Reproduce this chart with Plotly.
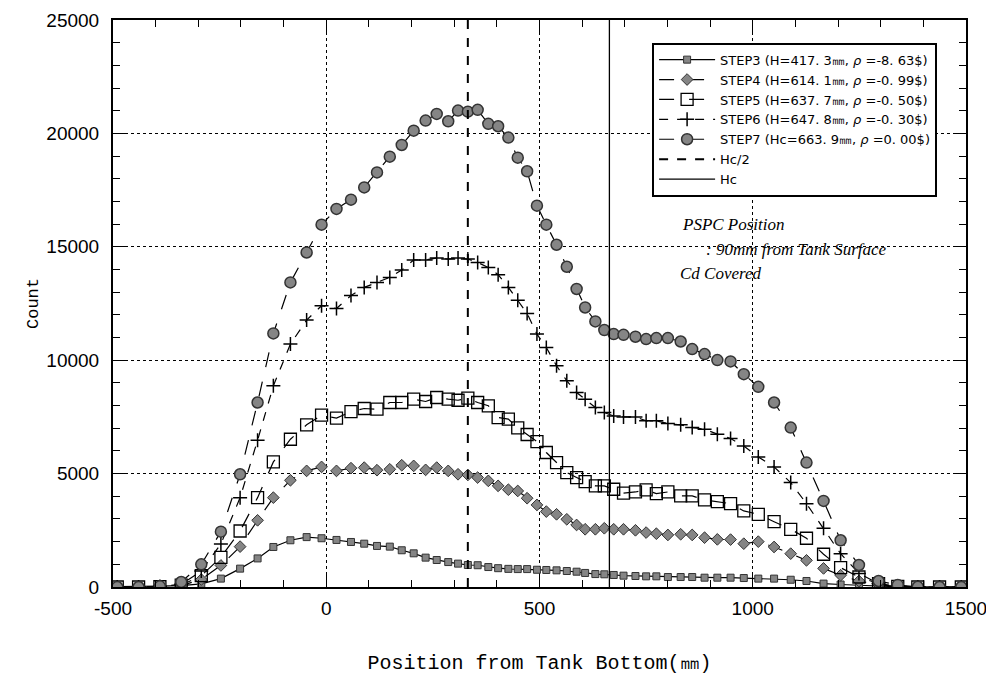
import plotly.graph_objects as go

# 位置 (mm)
pos = [-490, -440, -390, -340, -293, -247, -202, -161, -124, -84,
       -46, -11, 24, 58, 89, 119, 149, 177, 205, 233,
       259, 286, 309, 332, 355, 380, 403, 427, 449, 471,
       494, 516, 540, 564, 587, 607, 631, 652, 674, 697,
       725, 750, 774, 801, 831, 858, 887, 917, 948, 979,
       1013, 1050, 1089, 1126, 1166, 1206, 1249, 1295, 1340, 1387,
       1438, 1489]

step3 = [20, 20, 40, 60, 140, 370, 810, 1260, 1765, 2060,
         2200, 2150, 2075, 1985, 1910, 1810, 1780, 1620, 1485, 1295,
         1190, 1100, 1030, 970, 960, 880, 830, 800, 790, 790,
         760, 750, 735, 705, 675, 620, 570, 560, 530, 500,
         485, 470, 470, 440, 440, 440, 410, 410, 410, 395,
         370, 370, 320, 265, 150, 110, 80, 30, 10, 5,
         5, 5]

step4 = [0, 0, 10, 60, 330, 950, 1780, 2940, 3940, 4705,
         5120, 5295, 5120, 5240, 5265, 5150, 5190, 5370, 5340, 5165,
         5265, 5120, 4970, 4940, 4825, 4680, 4460, 4290, 4235, 3915,
         3620, 3325, 3205, 2985, 2735, 2545, 2545, 2590, 2545, 2545,
         2500, 2400, 2350, 2295, 2325, 2295, 2175, 2100, 2090, 1910,
         2000, 1765, 1470, 1175, 820, 520, 265, 100, 20, 0,
         0, 0]

step5 = [0, 0, 10, 80, 500, 1310, 2470, 3940, 5515, 6515,
         7150, 7575, 7445, 7735, 7870, 7840, 8135, 8135, 8280, 8180,
         8355, 8280, 8235, 8325, 8135, 7990, 7470, 7400, 7015, 6725,
         6410, 5930, 5485, 5045, 4825, 4650, 4460, 4460, 4310, 4135,
         4190, 4280, 4120, 4190, 4015, 4015, 3840, 3765, 3675, 3355,
         3205, 2880, 2545, 2150, 1445, 850, 440, 150, 30, 0,
         0, 0]

step6 = [0, 0, 20, 120, 700, 1900, 3940, 6470, 8870, 10710,
         11770, 12400, 12280, 12850, 13210, 13430, 13650, 13975, 14420, 14420,
         14505, 14460, 14505, 14460, 14310, 14090, 13770, 13210, 12640, 12060,
         11150, 10560, 9755, 9090, 8575, 8280, 7915, 7690, 7545, 7500,
         7500, 7325, 7325, 7205, 7150, 7030, 6960, 6740, 6545, 6220,
         5735, 5295, 4605, 3675, 2590, 1470, 600, 150, 30, 0,
         0, 0]

step7 = [0, 0, 30, 220, 1000, 2440, 4970, 8135, 11180, 13430,
         14750, 15975, 16670, 17080, 17620, 18280, 18975, 19490, 20120, 20565,
         20860, 20535, 21005, 20960, 21040, 20420, 20315, 19815, 18930, 18330,
         16815, 15975, 15090, 14120, 13140, 12325, 11710, 11330, 11150, 11120,
         11035, 10930, 10975, 10975, 10825, 10490, 10270, 10005, 9945, 9385,
         8825, 8135, 7030, 5485, 3795, 2060, 970, 265, 90, 10,
         0, 0]

names = ['STEP3 (H=417. 3㎜, <i>ρ</i> =-8. 63$)',
         'STEP4 (H=614. 1㎜, <i>ρ</i> =-0. 99$)',
         'STEP5 (H=637. 7㎜, <i>ρ</i> =-0. 50$)',
         'STEP6 (H=647. 8㎜, <i>ρ</i> =-0. 30$)',
         'STEP7 (Hc=663. 9㎜, <i>ρ</i> =0. 00$)']

hc = 663.9
y_span = [0, 25000]
x_ticks = [-500, 0, 500, 1000, 1500]
x_labels = ['-500', '0', '500', '1000', '1500']

sans = 'Liberation Sans'
mono = 'Liberation Mono'

fig = go.Figure()

styles = [
    dict(symbol='square', size=7, color='#858585', line=dict(color='#333', width=1)),
    dict(symbol='diamond', size=9, color='#858585', line=dict(color='#333', width=1)),
    dict(symbol='square-open', size=12, color='black', line=dict(color='black', width=1.3)),
    dict(symbol='cross-thin-open', size=10, color='black', line=dict(color='black', width=1.5)),
    dict(symbol='circle', size=11, color='#858585', line=dict(color='#333', width=1.5)),
]
dashes = ['solid', 'longdash', 'longdash', 'dash', 'longdash']

for ys, name, mk, dash in zip([step3, step4, step5, step6, step7], names, styles, dashes):
    fig.add_trace(go.Scatter(
        x=pos, y=ys, name=name, mode='lines+markers',
        line=dict(color='black', width=1.2, dash=dash),
        marker=mk,
    ))

fig.add_trace(go.Scatter(x=[hc / 2, hc / 2], y=y_span, name='Hc/2', mode='lines',
                         line=dict(color='black', width=2, dash='dash')))
fig.add_trace(go.Scatter(x=[hc, hc], y=y_span, name='Hc', mode='lines',
                         line=dict(color='black', width=1.3)))

# 注記
notes = [('<i>PSPC Position</i>', 0.665, 0.639),
         ('<i>: 90mm from Tank Surface</i>', 0.693, 0.595),
         ('<i>Cd Covered</i>', 0.662, 0.553)]
for txt, ax, ay in notes:
    fig.add_annotation(text=txt, x=ax, y=ay, xref='paper', yref='paper',
                       xanchor='left', yanchor='middle', showarrow=False,
                       font=dict(family='Liberation Serif', size=17, color='black'))

# ページ余白 8px 分を差し引く
fig.update_layout(
    width=994, height=685,
    margin=dict(l=105, r=36, t=12, b=106),
    paper_bgcolor='white', plot_bgcolor='white',
    font=dict(family=sans, color='black'),
    legend=dict(x=0.632, y=0.96, xanchor='left', yanchor='top',
                bgcolor='white', bordercolor='black', borderwidth=2,
                font=dict(family='DejaVu Sans', size=13), itemwidth=56,
                tracegroupgap=0),
)

fig.update_xaxes(
    range=[-500, 1500], tickvals=x_ticks, ticktext=x_labels,
    tickfont=dict(family=sans, size=19), automargin=False, ticklabelstandoff=3,
    ticks='inside', ticklen=12, tickcolor='black',
    minor=dict(dtick=100, ticks='inside', ticklen=7, tickcolor='black', showgrid=False),
    showline=True, linecolor='black', linewidth=2, mirror='allticks',
    showgrid=True, gridcolor='black', griddash='dot', gridwidth=1,
    zeroline=False,
    title=dict(text='Position from Tank Bottom(㎜)', font=dict(family=mono, size=20), standoff=37),
)
fig.update_yaxes(
    range=[0, 25000], dtick=5000, tickformat='d',
    tickfont=dict(family=sans, size=19), automargin=False, ticklabelstandoff=8,
    ticks='inside', ticklen=12, tickcolor='black',
    minor=dict(dtick=1000, ticks='inside', ticklen=7, tickcolor='black', showgrid=False),
    showline=True, linecolor='black', linewidth=2, mirror='allticks',
    showgrid=True, gridcolor='black', griddash='dot', gridwidth=1,
    zeroline=False,
    title=dict(text='Count', font=dict(family=mono, size=17), standoff=3),
)

fig.write_html('out.html')
